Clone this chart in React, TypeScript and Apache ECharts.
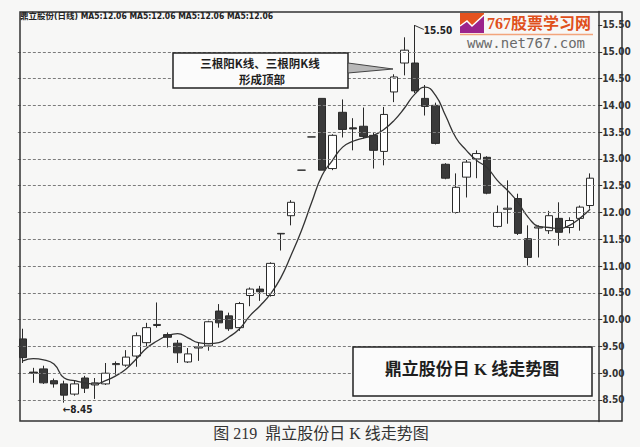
import React, { useEffect, useRef } from 'react';
import * as echarts from 'echarts';

// ---- data (daily candles, left to right) ----
const opens = [
  9.64, 9.02, 9.08, 8.86, 8.8, 8.61, 8.91, 8.78, 8.8, 9.16,
  9.15, 9.32, 9.57, 9.89, 9.72, 9.56, 9.21, 9.47, 9.51, 10.16,
  10.07, 9.85, 10.45, 10.57, 10.45, 11.6, 11.94, 12.79, 13.41, 14.13,
  12.82, 13.87, 13.58, 13.61, 13.44, 13.14, 14.25, 14.79, 14.79, 14.13,
  14.0, 12.9, 12.0, 12.66, 13.0, 13.03, 11.74, 12.06, 12.26, 11.51,
  11.71, 11.66, 11.89, 11.72, 11.89, 12.13,
];
const closes = [
  9.29, 9.0, 8.82, 8.8, 8.59, 8.8, 8.72, 8.82, 9.0, 9.18,
  9.3, 9.7, 9.85, 9.91, 9.67, 9.38, 9.36, 9.49, 9.96, 9.94,
  9.83, 10.3, 10.57, 10.52, 11.05, 11.61, 12.19, 12.79, 13.41, 12.79,
  13.44, 13.55, 13.56, 13.42, 13.16, 13.83, 14.53, 15.03, 14.27, 13.98,
  13.29, 12.64, 12.47, 12.94, 13.1, 12.36, 12.0, 12.08, 11.61, 11.16,
  11.73, 11.94, 11.63, 11.85, 12.1, 12.64,
];
const lows = [
  9.19, 8.82, 8.8, 8.73, 8.45, 8.58, 8.63, 8.52, 8.78, 8.97,
  9.12, 9.12, 9.5, 9.85, 9.48, 9.19, 9.19, 9.23, 9.42, 9.85,
  9.79, 9.79, 10.25, 10.35, 10.43, 11.29, 11.76, 12.79, 13.41, 12.79,
  12.79, 13.4, 13.16, 13.38, 12.82, 12.88, 14.06, 14.56, 14.23, 13.81,
  13.27, 12.62, 11.98, 12.28, 12.64, 12.34, 11.72, 11.79, 11.58, 11.01,
  11.16, 11.6, 11.38, 11.61, 11.66, 12.07,
];
const highs = [
  9.83, 9.1, 9.14, 8.9, 8.86, 8.86, 8.95, 8.91, 9.19, 9.22,
  9.43, 9.76, 9.94, 10.32, 9.76, 9.62, 9.47, 9.57, 9.98, 10.29,
  10.13, 10.33, 10.6, 10.63, 11.07, 11.61, 12.23, 12.79, 13.41, 14.13,
  13.46, 14.11, 13.76, 13.96, 13.5, 13.97, 14.58, 15.27, 15.5, 14.38,
  14.05, 12.92, 12.73, 12.98, 13.16, 13.05, 12.13, 12.6, 12.35, 11.76,
  11.76, 12.03, 12.19, 11.91, 12.13, 12.73,
];
const ma5 = [
  9.23, 9.27, 9.25, 9.17, 8.91, 8.86, 8.82, 8.8, 8.86, 8.95,
  9.08, 9.27, 9.47, 9.6, 9.7, 9.74, 9.66, 9.57, 9.55, 9.57,
  9.68, 9.83, 10.07, 10.26, 10.48, 10.78, 11.2, 11.66, 12.19, 12.69,
  12.97, 13.22, 13.33, 13.39, 13.44, 13.55, 13.72, 13.95, 14.21, 14.34,
  14.19, 13.8, 13.39, 13.16, 12.97, 12.84, 12.6, 12.41, 12.19, 11.91,
  11.74, 11.72, 11.7, 11.76, 11.89, 12.06,
];
const yTickValues = [8.5, 9, 9.5, 10, 10.5, 11, 11.5, 12, 12.5, 13, 13.5, 14, 14.5, 15, 15.5];
const gridValues = [8.5, 9, 9.5, 10, 10.5, 11, 11.5, 12, 12.5, 13, 13.5, 14, 14.5, 15];
const stockName = '鼎立股份';
const highMark = { index: 38, value: 15.5, label: '15.50' };
const lowMark = { index: 4, value: 8.45, label: '←8.45' };
const noteLines = ['三根阳K线、三根阴K线', '形成顶部'];
const boxTitle = '鼎立股份日 K 线走势图';
const caption = '图 219  鼎立股份日 K 线走势图';

const NARROW = "'Liberation Sans Narrow','DejaVu Sans Condensed','Roboto Condensed',Arial,sans-serif";
const CJK = "'Noto Sans CJK SC','Noto Sans',sans-serif";

export default function App() {
  const ref = useRef<HTMLDivElement>(null);
  useEffect(() => {
    document.body.style.margin = '0';
    const chart = echarts.init(ref.current!, null, { renderer: 'svg' });
    const categories = opens.map((_, i) => String(i + 1));
    const kData = opens.map((o, i) => [o, closes[i], lows[i], highs[i]]);
    const lastMa = ma5[ma5.length - 1].toFixed(2);
    const header = `${stockName}(日线) MA5:${lastMa} MA5:${lastMa} MA5:${lastMa} MA5:${lastMa}`;

    const option: any = {
      animation: false,
      backgroundColor: '#f7f7f6',
      grid: { left: 17.85, right: 44.75, top: 11.6, bottom: 25.6 },
      xAxis: {
        type: 'category',
        data: categories,
        boundaryGap: true,
        show: false,
      },
      yAxis: {
        type: 'value',
        position: 'right',
        min: 8.1,
        max: 15.75,
        offset: 3,
        axisLine: { show: true, lineStyle: { color: '#333', width: 1.5 } },
        axisTick: { show: true, length: 4, customValues: yTickValues, lineStyle: { color: '#333' } },
        axisLabel: {
          customValues: yTickValues,
          formatter: (v: number) => v.toFixed(2),
          margin: 4,
          fontSize: 10,
          fontWeight: 'bold',
          fontFamily: NARROW,
          color: '#333',
        },
        splitLine: { show: false },
      },
      series: [
        {
          type: 'line',
          data: [],
          z: 1,
          silent: true,
          markLine: {
            silent: true,
            symbol: ['none', 'none'],
            label: { show: false },
            lineStyle: { type: [3, 2], color: '#7c7c7c', width: 1 },
            data: gridValues.map((v) => ({ yAxis: v })),
          },
        },
        {
          type: 'candlestick',
          data: kData,
          barWidth: 8,
          z: 3,
          itemStyle: {
            color: '#ffffff',
            color0: '#3a3a3a',
            borderColor: '#2a2a2a',
            borderColor0: '#2a2a2a',
            borderWidth: 1,
          },
          markPoint: {
            silent: true,
            data: [
              {
                coord: [highMark.index, highMark.value],
                symbol: 'path://M0,0 L9,4 L9,5 L0,1 Z',
                symbolSize: [9, 5],
                symbolOffset: [4.5, 2.5],
                itemStyle: { color: '#333' },
                label: {
                  show: true,
                  formatter: highMark.label,
                  position: [9, 1],
                  fontSize: 10,
                  fontWeight: 'bold',
                  fontFamily: NARROW,
                  color: '#222',
                },
              },
              {
                coord: [lowMark.index, lowMark.value],
                symbol: 'rect',
                symbolSize: [1, 1],
                itemStyle: { color: 'rgba(0,0,0,0)' },
                label: {
                  show: true,
                  formatter: lowMark.label,
                  position: [-1, 2],
                  fontSize: 10,
                  fontWeight: 'bold',
                  fontFamily: NARROW,
                  color: '#222',
                },
              },
            ],
          },
        },
        {
          type: 'line',
          data: ma5,
          smooth: true,
          showSymbol: false,
          z: 4,
          silent: true,
          lineStyle: { color: '#333', width: 1.3 },
        },
      ],
      graphic: [
        {
          type: 'rect',
          silent: true,
          z: 10,
          shape: { x: 20, y: 12, width: 602, height: 409 },
          style: { fill: 'none', stroke: '#333', lineWidth: 1.5 },
        },
        {
          type: 'text',
          z: 10,
          x: 20,
          y: 16,
          style: {
            text: header,
            fontSize: 8.5,
            fontWeight: 'bold',
            fontFamily: NARROW + ',' + CJK,
            fill: '#222',
            align: 'left',
            verticalAlign: 'middle',
          },
        },
        {
          type: 'rect',
          z: 10,
          shape: { x: 173, y: 53, width: 175, height: 35 },
          style: { fill: '#fbfbfb', stroke: '#222', lineWidth: 1.5 },
        },
        {
          type: 'text',
          z: 11,
          x: 260,
          y: 62.5,
          style: {
            text: noteLines[0],
            fontSize: 11.5,
            fontWeight: 'bold',
            fontFamily: CJK,
            fill: '#1e1e1e',
            align: 'center',
            verticalAlign: 'middle',
          },
        },
        {
          type: 'text',
          z: 11,
          x: 262,
          y: 79,
          style: {
            text: noteLines[1],
            fontSize: 11.5,
            fontWeight: 'bold',
            fontFamily: CJK,
            fill: '#1e1e1e',
            align: 'center',
            verticalAlign: 'middle',
          },
        },
        {
          type: 'polygon',
          z: 10,
          shape: { points: [[348, 63], [393, 69], [348, 73]] },
          style: { fill: '#b8b8b8', stroke: '#444', lineWidth: 1 },
        },
        {
          type: 'rect',
          z: 10,
          shape: { x: 353, y: 347, width: 239, height: 49 },
          style: { fill: '#fbfbfb', stroke: '#222', lineWidth: 1.5 },
        },
        {
          type: 'text',
          z: 11,
          x: 472,
          y: 369,
          style: {
            text: boxTitle,
            fontSize: 17,
            fontWeight: 'bold',
            fontFamily: "'Liberation Serif'," + CJK,
            fill: '#1e1e1e',
            align: 'center',
            verticalAlign: 'middle',
          },
        },
        {
          type: 'text',
          z: 11,
          x: 321,
          y: 433,
          style: {
            text: caption,
            fontSize: 16,
            fontFamily: "'Liberation Serif'," + CJK,
            fill: '#333',
            align: 'center',
            verticalAlign: 'middle',
          },
        },
        // watermark
        {
          type: 'rect',
          z: 12,
          shape: { x: 460, y: 13, width: 24, height: 20 },
          style: { fill: '#e4531f' },
        },
        {
          type: 'polygon',
          z: 13,
          shape: { points: [[460, 33], [460, 26], [467, 21], [472, 26], [484, 15], [484, 33]] },
          style: { fill: '#9b238c' },
        },
        {
          type: 'polyline',
          z: 14,
          shape: { points: [[460, 26], [467, 21], [472, 26], [484, 15]] },
          style: { stroke: '#ffffff', lineWidth: 1.5, fill: 'none' },
        },
        {
          type: 'text',
          z: 12,
          x: 487,
          y: 23,
          style: {
            text: '767股票学习网',
            fontSize: 16,
            fontWeight: 'bold',
            fontFamily: "'Liberation Serif'," + CJK,
            fill: '#e0501c',
            align: 'left',
            verticalAlign: 'middle',
          },
        },
        {
          type: 'line',
          z: 12,
          shape: { x1: 460, y1: 34.5, x2: 593, y2: 34.5 },
          style: { stroke: '#f2a57c', lineWidth: 1.5 },
        },
        {
          type: 'text',
          z: 12,
          x: 526,
          y: 43,
          style: {
            text: 'www.net767.com',
            fontSize: 14,
            fontFamily: "'DejaVu Sans Mono',monospace",
            fill: '#6a6a6a',
            align: 'center',
            verticalAlign: 'middle',
          },
        },
      ],
    };
    chart.setOption(option);
    return () => chart.dispose();
  }, []);
  return <div ref={ref} style={{ width: 640, height: 447 }} />;
}
